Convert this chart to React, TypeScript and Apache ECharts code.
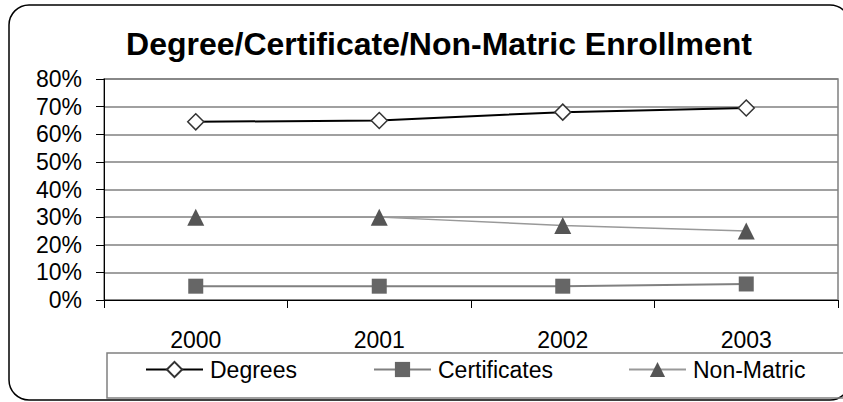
import React, { useEffect, useRef } from "react";
import * as echarts from "echarts";

const years = ["2000", "2001", "2002", "2003"];
const degrees = [64.5, 65, 68, 69.5];
const certificates = [5, 5, 5, 5.8];
const nonMatric = [30, 30, 27, 25];
const yTicks = [0, 10, 20, 30, 40, 50, 60, 70, 80];

const FONT = "'Liberation Sans', Arial, sans-serif";

export default function App() {
  const ref = useRef<HTMLDivElement>(null);
  useEffect(() => {
    if (!ref.current) return;
    const chart = echarts.init(ref.current, undefined, { renderer: "svg" });
    const legendCommon = {
      top: 353,
      itemWidth: 57,
      itemHeight: 19,
      itemGap: 5,
      textStyle: { fontFamily: FONT, fontSize: 23, color: "#000", padding: [0, 0, 0, 2] },
      selectedMode: false,
    };
    chart.setOption({
      animation: false,
      backgroundColor: "#fff",
      title: {
        text: "Degree/Certificate/Non-Matric Enrollment",
        left: 434,
        textAlign: "center",
        top: 23,
        textStyle: { fontFamily: FONT, fontSize: 32, fontWeight: "bold", color: "#000" },
      },
      graphic: [
        {
          type: "rect",
          shape: { x: 9, y: 5, width: 841, height: 395, r: 20 },
          style: { fill: "none", stroke: "#000", lineWidth: 1.5 },
          z: 100,
        },
        {
          type: "rect",
          shape: { x: 107, y: 353, width: 740, height: 45 },
          style: { fill: "none", stroke: "#808080", lineWidth: 1.5 },
          z: 100,
        },
      ],
      grid: {
        left: 104,
        right: 5,
        top: 79,
        bottom: 102,
        containLabel: false,
        show: true,
        borderColor: "#808080",
        borderWidth: 1.5,
      },
      legend: [
        { ...legendCommon, left: 140, data: ["Degrees"] },
        { ...legendCommon, left: 368, data: ["Certificates"] },
        { ...legendCommon, left: 623, data: ["Non-Matric"] },
      ],
      xAxis: {
        type: "category",
        data: years,
        boundaryGap: true,
        axisLine: { lineStyle: { color: "#000", width: 1 } },
        axisTick: { show: true, length: 8, lineStyle: { color: "#000" } },
        axisLabel: { margin: 28, fontFamily: FONT, fontSize: 23, color: "#000" },
        splitLine: { show: false },
      },
      yAxis: {
        type: "value",
        min: 0,
        max: 80,
        interval: 10,
        axisLine: { show: true, lineStyle: { color: "#000", width: 1 } },
        axisTick: { show: true, length: 8, lineStyle: { color: "#000" } },
        axisLabel: {
          margin: 22,
          fontFamily: FONT,
          fontSize: 23,
          color: "#000",
          formatter: (v: number) => (yTicks.includes(v) ? v + "%" : ""),
        },
        splitLine: { show: true, lineStyle: { color: "#808080", width: 1.5 } },
      },
      series: [
        {
          name: "Degrees",
          type: "line",
          data: degrees,
          symbol: "diamond",
          symbolSize: 16,
          itemStyle: { color: "#fff", borderColor: "#333", borderWidth: 1.5 },
          lineStyle: { color: "#000", width: 2 },
          z: 5,
        },
        {
          name: "Certificates",
          type: "line",
          data: certificates,
          symbol: "rect",
          symbolSize: 15,
          itemStyle: { color: "#666", borderColor: "#666", borderWidth: 0 },
          lineStyle: { color: "#808080", width: 2 },
          z: 4,
        },
        {
          name: "Non-Matric",
          type: "line",
          data: nonMatric,
          symbol: "triangle",
          symbolSize: 17,
          itemStyle: { color: "#555", borderWidth: 0 },
          lineStyle: { color: "#999", width: 1.5 },
          z: 3,
        },
      ],
    });
    return () => chart.dispose();
  }, []);
  return (
    <div
      ref={ref}
      style={{ position: "absolute", left: 0, top: 0, width: 843, height: 402 }}
    />
  );
}
